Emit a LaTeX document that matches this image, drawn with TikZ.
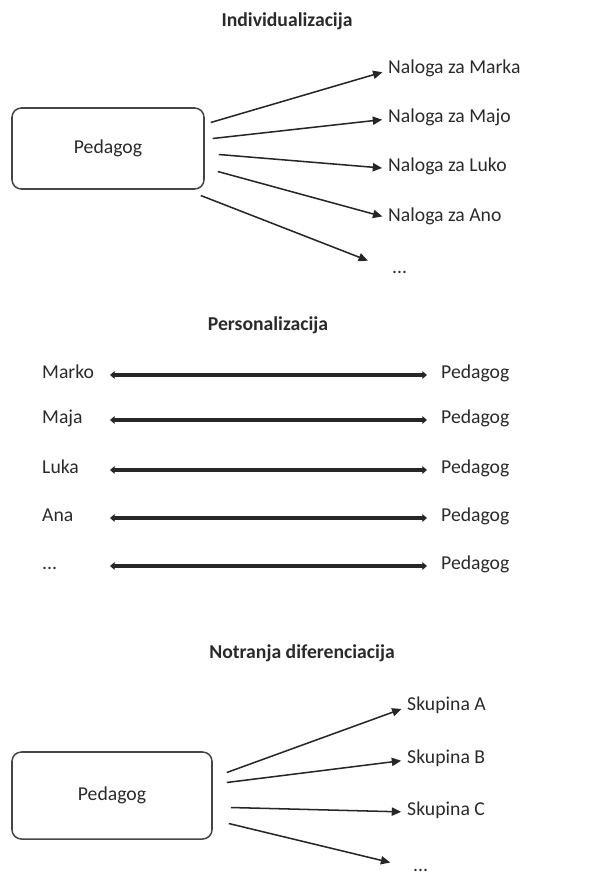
\documentclass[tikz,border=0pt]{standalone}
\usepackage{fontspec}
\setmainfont{Carlito}
\usepackage{xcolor}
\usepackage{tikz}
\usetikzlibrary{arrows.meta, positioning, calc}
\definecolor{DiffText}{RGB}{42, 42, 42}
\definecolor{DiffLine}{RGB}{38, 38, 38}
\definecolor{DiffBox}{RGB}{70, 70, 70}
\newcommand{\moredots}{...}

\tikzset{
  heading/.style={font=\fontsize{16.8}{20}\selectfont\bfseries, text=DiffText, inner sep=0pt},
  itemtext/.style={font=\fontsize{16.8}{20}\selectfont, text=DiffText, anchor=west, inner sep=0pt, text height=0.75em, text depth=0.2em},
  rolebox/.style={draw=DiffBox, line width=1.3pt, rounded corners=8pt, font=\fontsize{16.8}{20}\selectfont, text=DiffText},
  fan/.style={draw=DiffLine, line width=1.3pt, -{Triangle[length=8pt, width=7pt]}, shorten >=5pt},
  twoway/.style={draw=DiffLine, line width=3pt, {Triangle[length=4pt, width=6.5pt]}-{Triangle[length=4pt, width=6.5pt]}}
}

\begin{document}
\begin{tikzpicture}[x=0.03cm, y=-0.03cm]
    \path[use as bounding box] (0,0) rectangle (600,876);

    % Individualizacija
    \node[heading] (titleA) at (287,21) {Individualizacija};
    \node[rolebox, minimum width=5.76cm, minimum height=2.43cm] (pedA) at (108,148.5) {Pedagog};
    \node[itemtext] (marka) at (388,70.5) {Naloga za Marka};
    \node[itemtext] (majo) at (388,119) {Naloga za Majo};
    \node[itemtext] (luko) at (388,168.5) {Naloga za Luko};
    \node[itemtext] (ano) at (388,218) {Naloga za Ano};
    \node[itemtext] (moreA) at (392,270) {\moredots};
    \draw[fan] ([shift={(6,-26)}]pedA.east) -- (marka.west);
    \draw[fan] ([shift={(8,-10)}]pedA.east) -- (majo.west);
    \draw[fan] ([shift={(14,6)}]pedA.east) -- (luko.west);
    \draw[fan] ([shift={(13,23)}]pedA.east) -- (ano.west);
    \draw[fan, shorten >=22pt] ([shift={(-4,47)}]pedA.east) -- (moreA.west);

    % Personalizacija
    \node[heading] (titleB) at (268,325) {Personalizacija};
    \coordinate (pl) at (110,0);
    \coordinate (pr) at (427,0);
    \foreach \who/\yy [count=\i] in {Marko/375, Maja/420, Luka/470, Ana/518, \moredots/566} {
      \node[itemtext] (who\i) at (42,\yy) {\who};
      \node[itemtext] (ped\i) at (441,\yy) {Pedagog};
      \draw[twoway] (pl |- ped\i.west) -- (pr |- ped\i.west);
    }

    % Notranja diferenciacija
    \node[heading] (titleC) at (302,653) {Notranja diferenciacija};
    \node[rolebox, minimum width=6cm, minimum height=2.61cm] (pedC) at (112,795.5) {Pedagog};
    \node[itemtext] (grpA) at (407,707) {Skupina A};
    \node[itemtext] (grpB) at (407,760) {Skupina B};
    \node[itemtext] (grpC) at (407,812) {Skupina C};
    \node[itemtext] (moreC) at (413,868) {\moredots};
    \draw[fan] ([shift={(14,-23)}]pedC.east) -- (grpA.west);
    \draw[fan] ([shift={(14,-13)}]pedC.east) -- (grpB.west);
    \draw[fan] ([shift={(18,12)}]pedC.east) -- (grpC.west);
    \draw[fan, shorten >=20pt] ([shift={(16,28)}]pedC.east) -- (moreC.west);
\end{tikzpicture}
\end{document}
